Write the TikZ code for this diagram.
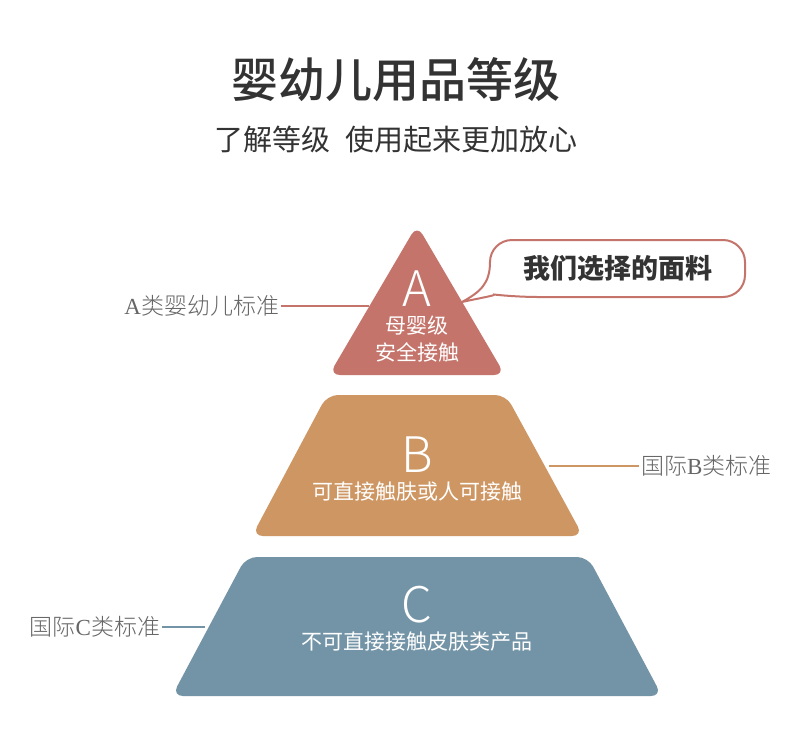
\documentclass[tikz,border=0pt]{standalone}
\usepackage{fontspec}
\setmainfont{Noto Sans CJK SC}
\newfontfamily\serifl{Liberation Serif}
\IfFontExistsTF{Noto Sans CJK SC Medium}{\newfontfamily\cjkmed{Noto Sans CJK SC Medium}}{\newfontfamily\cjkmed{Noto Sans CJK SC}[FakeBold=1.2]}
\IfFontExistsTF{Noto Sans CJK SC Light}{\newfontfamily\cjklight{Noto Sans CJK SC Light}}{\newfontfamily\cjklight{Noto Sans CJK SC}}
\usepackage{tikz}
\usetikzlibrary{positioning}
\definecolor{GLCoral}{HTML}{C4746B}
\definecolor{GLSand}{HTML}{CD9663}
\definecolor{GLSlate}{HTML}{7394A6}
\definecolor{GLInk}{HTML}{333333}
\definecolor{GLGray}{HTML}{666666}

\begin{document}
\begin{tikzpicture}[
    x=1pt,y=-1pt,
    tier/.style={rounded corners=11pt},
    letter/.style={text=white, font=\fontsize{49}{49}\selectfont\cjklight, inner sep=0pt},
    desc/.style={text=white, font=\fontsize{21}{27}\selectfont, align=center, inner sep=0pt},
    side/.style={text=GLGray, font=\fontsize{23}{23}\selectfont\cjklight, inner sep=0pt, outer sep=2pt},
    tick/.style={line width=2pt},
    bubble/.style={draw=GLCoral, line width=2pt, fill=white}
  ]
    \useasboundingbox (0,0) rectangle (800,752);
    \fill[white] (0,0) rectangle (800,752);

    % heading
    \node[text=GLInk, font=\fontsize{47}{47}\selectfont\cjkmed] (title) at (396,80) {婴幼儿用品等级};
    \node[text=GLInk, font=\fontsize{29}{29}\selectfont] (subtitle) at (396,140) {了解等级\hspace{0.5em}使用起来更加放心};

    % pyramid tiers
    \fill[GLCoral, tier] (417,225) -- (505,375) -- (329,375) -- cycle;
    \fill[GLSand, tier] (327,395) -- (506,395) -- (583,536) -- (252,536) -- cycle;
    \fill[GLSlate, tier] (246,557) -- (588,557) -- (662,696) -- (172,696) -- cycle;

    \node[letter] (gradeA) at (417,289) {A};
    \node[desc] (descA) at (417,339) {母婴级\\安全接触};
    \node[letter] (gradeB) at (417,455) {B};
    \node[desc] (descB) at (417,492) {可直接触肤或人可接触};
    \node[letter] (gradeC) at (417,605) {C};
    \node[desc] (descC) at (417,642) {不可直接接触皮肤类产品};

    % side labels
    \coordinate (edgeA) at (369,306);
    \coordinate (edgeB) at (549,466);
    \coordinate (edgeC) at (205,627);
    \node[side, anchor=east] (labA) at (281,306) {{\serifl A}类婴幼儿标准};
    \node[side, anchor=west] (labB) at (639,466) {国际{\serifl B}类标准};
    \node[side, anchor=east] (labC) at (162,627) {国际{\serifl C}类标准};
    \draw[tick, draw=GLCoral] (labA.east) -- (edgeA);
    \draw[tick, draw=GLSand] (edgeB) -- (labB.west);
    \draw[tick, draw=GLSlate] (labC.east) -- (edgeC);

    % callout
    \draw[bubble] (462,302) .. controls (480,292) and (490,284) .. (490,262)
      [rounded corners=22pt] -- (490,240) -- (745,240) -- (745,297) -- (515,297)
      [sharp corners] .. controls (498,295) and (485,297) .. cycle;
    \node[text=GLInk, font=\fontsize{27}{27}\selectfont\bfseries] (pick) at (618,268) {我们选择的面料};
\end{tikzpicture}
\end{document}
